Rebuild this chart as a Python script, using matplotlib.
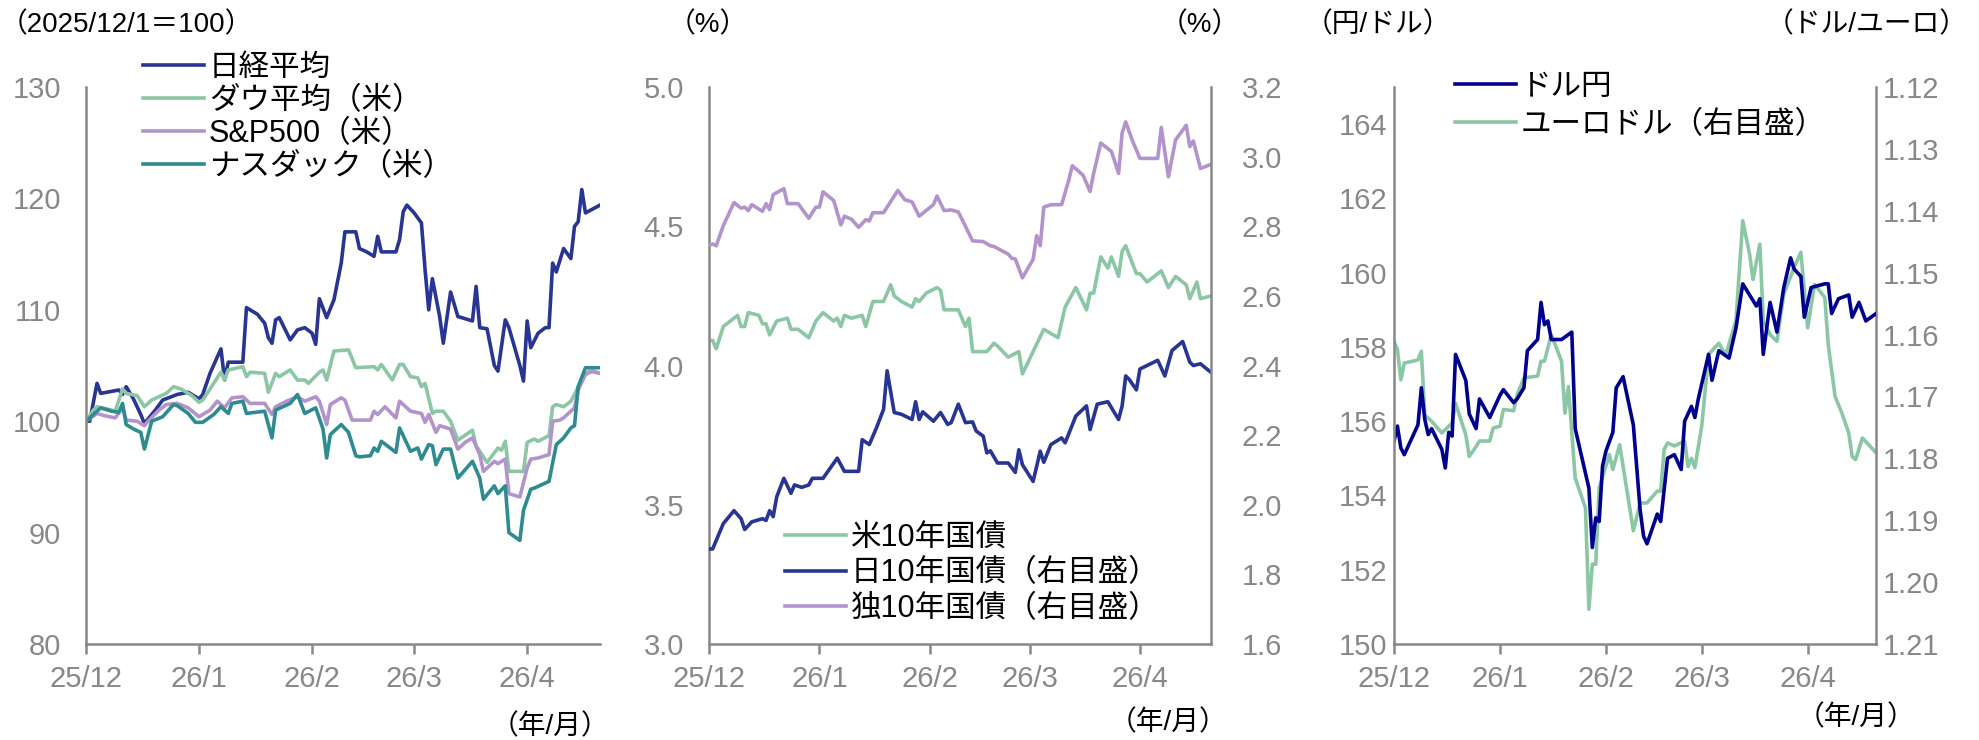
import matplotlib
matplotlib.use('Agg')
import matplotlib.pyplot as plt
import matplotlib.dates as mdates
import pandas as pd

start = pd.Timestamp('2025-12-01')
end_day = 141

# ---- 株価 (2025/12/1=100) ----
nikkei_day = [0, 1, 3, 4, 9, 10, 11, 13, 15, 16, 17, 19, 21, 25, 28, 31, 32, 34, 37, 38, 39, 43, 44, 47, 49, 50,
              51, 52, 53, 56, 58, 60, 62, 63, 64, 66, 68, 70, 71, 74, 75, 77, 79, 80, 81, 85, 86, 87, 88, 90, 92,
              93, 94, 95, 97, 98, 100, 102, 106, 107, 108, 110, 112, 113, 115, 116, 119, 120, 121, 122, 124, 126,
              127, 128, 129, 131, 133, 134, 135, 136, 137, 141]
nikkei = [100.0, 100.0, 103.4, 102.5, 102.8, 102.4, 103.1, 102.0, 100.6, 99.8, 100.2, 101.0, 101.9, 102.4, 102.6,
          102.0, 102.4, 104.3, 106.5, 103.7, 105.3, 105.3, 110.2, 109.6, 108.8, 107.5, 107.0, 109.1, 109.3, 107.3,
          108.2, 108.4, 107.9, 106.9, 111.0, 109.3, 110.9, 114.2, 117.0, 117.0, 115.5, 115.2, 114.8, 116.6, 115.2,
          115.2, 116.3, 118.8, 119.4, 118.7, 117.8, 113.6, 110.0, 112.8, 109.4, 107.0, 111.6, 109.4, 109.0, 112.1,
          108.4, 108.3, 105.0, 104.5, 109.1, 108.4, 105.0, 103.6, 109.0, 106.6, 107.9, 108.4, 108.4, 114.2, 113.4,
          115.5, 114.6, 117.5, 117.9, 120.8, 118.7, 119.4]

dow_day = [0, 2, 3, 7, 8, 10, 11, 14, 16, 18, 22, 24, 26, 29, 31, 32, 35, 37, 38, 39, 43, 44, 45, 49, 50, 52, 53,
           56, 58, 60, 61, 64, 65, 66, 68, 72, 74, 79, 80, 81, 84, 86, 87, 89, 91, 92, 93, 95, 96, 98, 100, 102,
           106, 107, 110, 113, 114, 115, 116, 120, 121, 123, 124, 127, 128, 129, 131, 133, 134, 135, 137, 138, 141]
dow = [100.0, 101.0, 101.3, 101.0, 100.9, 102.9, 102.5, 102.3, 101.3, 101.9, 102.5, 103.1, 102.9, 102.3, 101.7,
       101.9, 103.4, 104.4, 103.7, 104.6, 104.9, 104.0, 104.4, 104.3, 102.6, 104.3, 104.0, 104.6, 103.7, 103.7,
       103.4, 104.4, 104.6, 103.7, 106.3, 106.4, 104.8, 104.9, 104.6, 105.1, 103.7, 105.1, 105.1, 104.0, 103.9,
       103.1, 103.4, 100.7, 100.9, 100.9, 100.0, 98.3, 99.2, 97.8, 96.3, 97.6, 97.4, 98.2, 95.5, 95.5, 98.1, 98.4,
       98.2, 98.7, 101.3, 101.5, 101.3, 101.8, 102.4, 103.1, 104.2, 104.5, 104.3]

sp500_day = [0, 3, 5, 8, 10, 11, 14, 16, 17, 20, 22, 25, 28, 31, 34, 36, 38, 40, 43, 45, 49, 51, 52, 55, 58, 60,
             63, 64, 66, 67, 70, 71, 73, 78, 79, 80, 82, 85, 86, 89, 92, 93, 94, 96, 97, 100, 102, 104, 106, 108,
             109, 112, 113, 115, 116, 119, 121, 122, 124, 127, 128, 130, 131, 134, 135, 137, 139, 141]
sp500 = [100.0, 100.7, 100.5, 100.3, 101.2, 100.1, 100.0, 99.6, 100.0, 101.0, 101.5, 101.6, 101.2, 100.4, 101.0,
         101.8, 101.2, 102.1, 102.2, 101.6, 101.6, 100.6, 101.3, 101.8, 102.2, 101.8, 102.2, 101.8, 99.7, 101.5,
         102.1, 101.9, 100.1, 100.1, 100.9, 100.6, 101.3, 100.3, 101.8, 100.9, 100.7, 99.9, 100.6, 99.0, 99.6, 99.3,
         97.5, 98.1, 98.5, 97.0, 95.5, 96.4, 96.2, 96.6, 93.5, 93.2, 95.8, 96.6, 96.7, 97.0, 100.0, 100.1, 100.3,
         101.2, 102.8, 104.2, 104.5, 104.3]

nasdaq_day = [0, 2, 4, 7, 9, 10, 11, 13, 15, 16, 18, 21, 24, 25, 28, 30, 32, 35, 37, 39, 40, 43, 44, 49, 51, 52,
              56, 58, 60, 63, 65, 66, 67, 70, 72, 74, 75, 78, 79, 80, 81, 85, 86, 89, 91, 92, 94, 95, 96, 98, 100,
              102, 106, 108, 109, 112, 113, 115, 116, 119, 120, 122, 123, 127, 129, 131, 133, 134, 135, 137, 141]
nasdaq = [100.0, 100.6, 101.2, 100.9, 100.8, 101.6, 99.7, 99.3, 99.0, 97.5, 100.0, 100.4, 101.5, 101.4, 100.7,
          99.9, 99.9, 100.6, 101.3, 100.7, 101.6, 101.8, 100.7, 100.9, 98.5, 101.0, 101.6, 102.4, 100.7, 101.2,
          99.3, 96.7, 98.8, 99.7, 99.0, 96.9, 96.8, 96.9, 97.6, 97.3, 98.2, 97.2, 99.4, 97.3, 97.6, 96.6, 97.9,
          97.8, 96.1, 97.5, 97.5, 94.9, 96.4, 94.9, 93.0, 94.2, 93.5, 94.2, 90.0, 89.3, 92.0, 93.9, 94.0, 94.6,
          97.9, 98.5, 99.4, 99.6, 103.1, 104.8, 104.8]

# ---- 長期金利 (%) ----
us10_day = [0, 1, 2, 4, 8, 9, 10, 11, 14, 15, 16, 17, 19, 22, 23, 25, 28, 30, 32, 35, 36, 37, 38, 40, 43, 44, 46,
            49, 51, 52, 54, 57, 58, 59, 61, 64, 65, 66, 70, 72, 73, 74, 78, 80, 81, 84, 87, 88, 91, 94, 98, 100,
            103, 106, 107, 108, 110, 112, 113, 115, 116, 117, 120, 121, 123, 127, 129, 131, 134, 135, 137, 138, 141]
us10 = [4.09, 4.09, 4.06, 4.14, 4.18, 4.14, 4.14, 4.19, 4.18, 4.15, 4.15, 4.11, 4.16, 4.17, 4.13, 4.13, 4.10,
        4.16, 4.19, 4.16, 4.17, 4.14, 4.18, 4.17, 4.18, 4.14, 4.23, 4.23, 4.29, 4.25, 4.23, 4.21, 4.24, 4.23, 4.26,
        4.28, 4.27, 4.20, 4.20, 4.14, 4.17, 4.05, 4.05, 4.08, 4.07, 4.03, 4.05, 3.97, 4.05, 4.13, 4.10, 4.21, 4.28,
        4.20, 4.26, 4.26, 4.39, 4.35, 4.39, 4.32, 4.41, 4.43, 4.33, 4.33, 4.30, 4.34, 4.28, 4.32, 4.29, 4.24, 4.30,
        4.24, 4.25]

jp10_day = [0, 1, 4, 7, 9, 10, 12, 15, 16, 17, 18, 19, 21, 23, 24, 26, 28, 29, 32, 36, 38, 42, 43, 45, 47, 49, 50,
            52, 54, 57, 58, 59, 60, 63, 65, 67, 68, 70, 72, 74, 75, 77, 78, 79, 81, 84, 86, 87, 88, 91, 93, 94, 96,
            99, 100, 103, 106, 107, 109, 112, 115, 116, 117, 118, 120, 121, 123, 126, 128, 130, 133, 135, 136, 138,
            141]
jp10 = [1.873, 1.873, 1.946, 1.983, 1.960, 1.929, 1.951, 1.960, 1.955, 1.983, 1.966, 2.023, 2.076, 2.033, 2.057,
        2.050, 2.057, 2.076, 2.076, 2.134, 2.096, 2.096, 2.187, 2.173, 2.221, 2.274, 2.385, 2.265, 2.260, 2.245,
        2.296, 2.245, 2.267, 2.240, 2.265, 2.231, 2.236, 2.289, 2.236, 2.238, 2.212, 2.197, 2.149, 2.155, 2.120,
        2.120, 2.093, 2.158, 2.115, 2.067, 2.154, 2.122, 2.173, 2.192, 2.178, 2.255, 2.284, 2.216, 2.289, 2.296,
        2.245, 2.284, 2.370, 2.360, 2.330, 2.390, 2.400, 2.415, 2.370, 2.443, 2.469, 2.410, 2.400, 2.405, 2.380]

de10_day = [0, 1, 2, 4, 7, 9, 10, 11, 12, 15, 16, 17, 18, 21, 22, 25, 28, 30, 31, 32, 35, 37, 38, 40, 42, 44, 45,
            46, 49, 51, 53, 55, 57, 59, 63, 64, 66, 68, 70, 72, 74, 77, 79, 80, 84, 85, 86, 88, 91, 92, 93, 94, 96,
            99, 101, 102, 105, 107, 108, 110, 113, 115, 116, 117, 119, 121, 126, 127, 129, 131, 134, 135, 136, 138,
            141]
de10 = [2.746, 2.749, 2.744, 2.802, 2.868, 2.852, 2.855, 2.845, 2.862, 2.843, 2.865, 2.848, 2.891, 2.908, 2.865,
        2.865, 2.823, 2.855, 2.855, 2.899, 2.874, 2.804, 2.829, 2.820, 2.797, 2.819, 2.815, 2.839, 2.839, 2.871,
        2.903, 2.876, 2.870, 2.829, 2.862, 2.887, 2.845, 2.847, 2.841, 2.800, 2.758, 2.756, 2.744, 2.742, 2.720,
        2.708, 2.706, 2.652, 2.705, 2.773, 2.744, 2.855, 2.862, 2.862, 2.932, 2.974, 2.947, 2.900, 2.952, 3.039,
        3.015, 2.952, 3.068, 3.100, 3.043, 2.995, 2.995, 3.084, 2.942, 3.048, 3.090, 3.029, 3.045, 2.966, 2.978]

# ---- 為替 ----
usdjpy_day = [0, 1, 2, 3, 7, 8, 9, 10, 11, 14, 15, 16, 17, 18, 21, 22, 24, 25, 28, 31, 32, 35, 36, 38, 39, 42, 43,
              44, 45, 46, 49, 52, 53, 55, 57, 58, 59, 60, 61, 62, 64, 65, 67, 70, 72, 73, 74, 77, 78, 80, 82, 84,
              85, 87, 88, 89, 91, 92, 93, 95, 98, 100, 102, 106, 107, 108, 110, 112, 114, 116, 117, 119, 120, 122,
              126, 127, 128, 130, 133, 134, 136, 138, 141]
usdjpy = [155.46, 155.87, 155.28, 155.10, 155.90, 156.90, 156.05, 155.64, 155.80, 155.24, 154.74, 155.70, 155.60,
          157.80, 157.10, 156.20, 155.80, 156.60, 156.10, 156.70, 156.85, 156.50, 156.60, 156.90, 157.90, 158.20,
          159.20, 158.60, 158.70, 158.20, 158.20, 158.40, 155.80, 155.00, 154.20, 152.60, 153.40, 153.30, 154.80,
          155.20, 155.70, 156.90, 157.20, 155.90, 153.60, 152.90, 152.70, 153.50, 153.30, 155.00, 155.10, 154.70,
          156.00, 156.40, 156.10, 156.60, 157.40, 157.80, 157.10, 157.90, 157.70, 158.50, 159.70, 159.10, 159.30,
          157.80, 159.20, 158.40, 159.60, 160.40, 160.10, 159.90, 158.80, 159.60, 159.70, 159.70, 158.90, 159.30,
          159.40, 158.80, 159.20, 158.70, 158.90]

eurusd_day = [0, 1, 2, 3, 7, 8, 9, 11, 14, 17, 18, 21, 22, 24, 25, 28, 29, 31, 32, 35, 36, 38, 42, 43, 44, 46, 49,
              50, 51, 53, 56, 57, 58, 59, 60, 63, 64, 66, 70, 72, 74, 77, 78, 79, 80, 82, 85, 86, 87, 88, 90, 92,
              95, 97, 100, 102, 104, 105, 107, 108, 110, 112, 114, 117, 119, 121, 123, 126, 127, 129, 131, 133, 134,
              135, 137, 141]
eurusd = [1.1611, 1.1624, 1.1673, 1.1646, 1.1641, 1.1627, 1.1730, 1.1740, 1.1759, 1.1743, 1.1711, 1.1762, 1.1797,
          1.1781, 1.1772, 1.1772, 1.1751, 1.1748, 1.1721, 1.1723, 1.1697, 1.1670, 1.1667, 1.1643, 1.1643, 1.1600,
          1.1643, 1.1727, 1.1684, 1.1832, 1.1880, 1.2044, 1.1971, 1.1971, 1.1848, 1.1794, 1.1818, 1.1778, 1.1917,
          1.1872, 1.1872, 1.1853, 1.1853, 1.1786, 1.1775, 1.1780, 1.1772, 1.1813, 1.1800, 1.1815, 1.1748, 1.1632,
          1.1614, 1.1633, 1.1578, 1.1416, 1.1470, 1.1511, 1.1454, 1.1578, 1.1600, 1.1611, 1.1535, 1.1492, 1.1467,
          1.1589, 1.1519, 1.1540, 1.1616, 1.1700, 1.1727, 1.1759, 1.1797, 1.1802, 1.1767, 1.1791]

NAVY = '#283593'
GREEN = '#8cc7a5'
LAVENDER = '#b393cc'
TEAL = '#2e8b8f'
BLUE = '#00008f'
GREY = '#888888'

plt.rcParams['font.family'] = ['Liberation Sans', 'Noto Sans CJK JP']
JP = ['Liberation Sans', 'Noto Sans CJK JP']
TICK = 21


def dates(days):
    return start + pd.to_timedelta(days, unit='D')


def month_fmt(x, pos):
    d = mdates.num2date(x)
    return f'{d.year % 100}/{d.month}'


def style(ax, pad, right=None):
    ax.set_xlim(start, start + pd.Timedelta(days=end_day))
    ax.xaxis.set_major_locator(mdates.MonthLocator())
    ax.xaxis.set_major_formatter(plt.FuncFormatter(month_fmt))
    ax.spines['top'].set_visible(False)
    ax.spines['right'].set_visible(right is not None)
    for s in ['left', 'bottom', 'right']:
        ax.spines[s].set_color(GREY)
        ax.spines[s].set_linewidth(1.8)
    ax.tick_params(axis='x', colors=GREY, labelsize=TICK, length=7, width=1.8, pad=8)
    ax.tick_params(axis='y', colors=GREY, labelsize=TICK, length=0, pad=pad)


def legend(handles, x, y, spacing):
    fig.legend(handles, [h.get_label() for h in handles], loc='upper left',
               bbox_to_anchor=(x / 1979, 1 - y / 740), frameon=False, prop={'family': JP, 'size': 22},
               handlelength=2.0, handletextpad=0.15, labelspacing=spacing, borderpad=0, borderaxespad=0)


lw = 2.6
fig = plt.figure(figsize=(19.79, 7.40), dpi=100)

# panel 1
ax1 = fig.add_axes([0.0435, 0.1297, 0.2597, 0.7527])
p1 = ax1.plot(dates(nikkei_day), nikkei, color=NAVY, lw=lw, label='日経平均')
p2 = ax1.plot(dates(dow_day), dow, color=GREEN, lw=lw, label='ダウ平均（米）')
p3 = ax1.plot(dates(sp500_day), sp500, color=LAVENDER, lw=lw, label='S&P500（米）')
p4 = ax1.plot(dates(nasdaq_day), nasdaq, color=TEAL, lw=lw, label='ナスダック（米）')
ax1.set_ylim(80, 130)
ax1.set_yticks(range(80, 131, 10))
style(ax1, 18)
legend(p1 + p2 + p3 + p4, 143, 53, 0.1)

# panel 2
ax2 = fig.add_axes([0.3583, 0.1297, 0.2537, 0.7527])
ax2r = ax2.twinx()
l1, = ax2.plot(dates(us10_day), us10, color=GREEN, lw=lw, label='米10年国債')
l2, = ax2r.plot(dates(jp10_day), jp10, color=NAVY, lw=lw, label='日10年国債（右目盛）')
l3, = ax2r.plot(dates(de10_day), de10, color=LAVENDER, lw=lw, label='独10年国債（右目盛）')
ax2.set_ylim(3.0, 5.0)
ax2.set_yticks([3.0, 3.5, 4.0, 4.5, 5.0])
ax2.yaxis.set_major_formatter(plt.FormatStrFormatter('%.1f'))
ax2r.set_ylim(1.6, 3.2)
ax2r.set_yticks([1.6, 1.8, 2.0, 2.2, 2.4, 2.6, 2.8, 3.0, 3.2])
ax2r.yaxis.set_major_formatter(plt.FormatStrFormatter('%.1f'))
style(ax2, 18)
style(ax2r, 22, right=True)
ax2r.spines['left'].set_visible(False)
ax2r.spines['bottom'].set_visible(False)
legend([l1, l2, l3], 785, 523, 0.18)

# panel 3
ax3 = fig.add_axes([0.7044, 0.1297, 0.2436, 0.7527])
ax3r = ax3.twinx()
m1, = ax3.plot(dates(usdjpy_day), usdjpy, color=BLUE, lw=lw, label='ドル円')
m2, = ax3r.plot(dates(eurusd_day), eurusd, color=GREEN, lw=lw, label='ユーロドル（右目盛）')
ax3.set_ylim(150, 165)
ax3.set_yticks(range(150, 165, 2))
ax3r.set_ylim(1.21, 1.12)
ax3r.set_yticks([1.12, 1.13, 1.14, 1.15, 1.16, 1.17, 1.18, 1.19, 1.20, 1.21])
ax3r.yaxis.set_major_formatter(plt.FormatStrFormatter('%.2f'))
style(ax3, 5)
style(ax3r, 5, right=True)
ax3r.spines['left'].set_visible(False)
ax3r.spines['bottom'].set_visible(False)
ax3.set_zorder(ax3r.get_zorder() + 1)
ax3.patch.set_visible(False)
legend([m1, m2], 1455, 72, 0.25)

# unit labels
tkw = dict(family=JP, size=20, color='black', va='center')
fig.text(0 / 1979, 1 - 25 / 740, '（2025/12/1＝100）', **tkw)
fig.text(668 / 1979, 1 - 25 / 740, '（%）', **tkw)
fig.text(1160 / 1979, 1 - 25 / 740, '（%）', **tkw)
fig.text(1305 / 1979, 1 - 25 / 740, '（円/ドル）', **tkw)
fig.text(1968 / 1979, 1 - 25 / 740, '（ドル/ユーロ）', ha='right', **tkw)
fig.text(491 / 1979, 1 - 727 / 740, '（年/月）', **tkw)
fig.text(1109 / 1979, 1 - 723 / 740, '（年/月）', **tkw)
fig.text(1797 / 1979, 1 - 718 / 740, '（年/月）', **tkw)

fig.savefig('out.png', dpi=100)
